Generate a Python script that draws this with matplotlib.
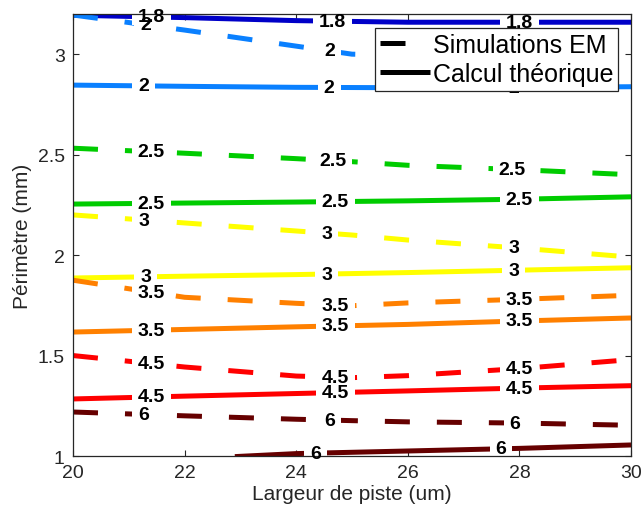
import numpy as np
import matplotlib.pyplot as plt
from matplotlib.lines import Line2D
from matplotlib.patches import Rectangle

plt.rcParams['font.family'] = ['Liberation Sans', 'DejaVu Sans']

# Simulations EM (traits pointillés)
x_sim = [20, 22, 24, 25, 26, 28, 30]
y_sim_2 = [3.195, 3.12, 3.04, 3.0, 2.995, 2.995, 3.0]
y_sim_25 = [2.532, 2.507, 2.48, 2.465, 2.447, 2.425, 2.40]
y_sim_3 = [2.20, 2.16, 2.12, 2.10, 2.075, 2.035, 1.99]
y_sim_35 = [1.875, 1.79, 1.76, 1.748, 1.762, 1.78, 1.80]
y_sim_45 = [1.50, 1.443, 1.398, 1.39, 1.40, 1.435, 1.48]
y_sim_6 = [1.219, 1.20, 1.183, 1.176, 1.17, 1.164, 1.153]

# Calcul théorique (traits pleins)
x_th = [20, 22, 24, 26, 28, 30]
y_th_18 = [3.194, 3.182, 3.167, 3.159, 3.159, 3.159]
y_th_2 = [2.846, 2.84, 2.835, 2.833, 2.835, 2.838]
y_th_25 = [2.254, 2.259, 2.264, 2.27, 2.278, 2.29]
y_th_3 = [1.886, 1.895, 1.903, 1.913, 1.925, 1.937]
y_th_35 = [1.617, 1.63, 1.643, 1.655, 1.672, 1.687]
y_th_45 = [1.284, 1.298, 1.311, 1.324, 1.338, 1.35]
x_th_6 = [22.9, 24, 26, 28, 30]
y_th_6 = [0.997, 1.012, 1.025, 1.038, 1.055]

colors = {'1.8': '#0000c8', '2': '#0a80ff', '2.5': '#00cc00', '3': '#ffff00',
          '3.5': '#ff8000', '4.5': '#ff0000', '6': '#660000'}

# (niveau, x, y, pointillé, positions des étiquettes)
series = [
    ('1.8', x_th, y_th_18, False, [21.4, 24.65, 28.0]),
    ('2', x_sim, y_sim_2, True, [21.3, 24.6]),   # la 3e étiquette est sous la légende
    ('2', x_th, y_th_2, False, [21.27, 24.59, 27.9]),
    ('2.5', x_sim, y_sim_25, True, [21.4, 24.65, 27.87]),
    ('2.5', x_th, y_th_25, False, [21.4, 24.7, 28.0]),
    ('3', x_sim, y_sim_3, True, [21.27, 24.55, 27.9]),
    ('3', x_th, y_th_3, False, [21.3, 24.55, 27.9]),
    ('3.5', x_sim, y_sim_35, True, [21.4, 24.7, 28.0]),
    ('3.5', x_th, y_th_35, False, [21.4, 24.7, 28.0]),
    ('4.5', x_sim, y_sim_45, True, [21.4, 24.7, 28.0]),
    ('4.5', x_th, y_th_45, False, [21.4, 24.7, 28.0]),
    ('6', x_sim, y_sim_6, True, [21.27, 24.6, 27.92]),
    ('6', x_th_6, y_th_6, False, [24.35, 27.67]),
]

lw = 3.6
dash = (5, 5.4)
axcol = '#262626'

fig = plt.figure(figsize=(6.41, 5.10), dpi=100)
ax = fig.add_axes([0.1139, 0.1039, 0.8705, 0.8667])

labels = []
for lev, xs, ys, dashed, lx in series:
    line, = ax.plot(xs, ys, color=colors[lev], lw=lw, solid_capstyle='butt', zorder=2)
    if dashed:
        line.set_dashes(dash)
        line.set_dash_capstyle('butt')
    for xl in lx:
        yl = np.interp(xl, xs, ys)
        t = ax.text(xl, yl, lev, ha='center', va='center', fontsize=14,
                    fontweight='bold', color='black', zorder=4)
        labels.append(t)

ax.set_xlim(20, 30)
ax.set_ylim(1, 3.2)
ax.set_xticks([20, 22, 24, 26, 28, 30])
ax.set_yticks([1, 1.5, 2, 2.5, 3])
ax.set_yticklabels(['1', '1.5', '2', '2.5', '3'])
ax.tick_params(direction='in', length=4, width=0.8, colors=axcol, labelsize=14,
               top=True, right=True, pad=6)
for s in ax.spines.values():
    s.set_color(axcol)
    s.set_linewidth(0.9)
    s.set_zorder(3.5)

ax.set_xlabel('Largeur de piste (um)', fontsize=15, color=axcol, labelpad=2)
ax.set_ylabel('Périmètre (mm)', fontsize=15, color=axcol, labelpad=4)

# trous blancs derrière les étiquettes de niveau
fig.canvas.draw()
inv = ax.transData.inverted()
for t in labels:
    bb = t.get_window_extent()
    cy = (bb.y0 + bb.y1) / 2
    (x0, y0), (x1, y1) = inv.transform([(bb.x0 - 6, cy - 8), (bb.x1 + 6, cy + 8)])
    ax.add_patch(Rectangle((x0, y0), x1 - x0, y1 - y0, fc='white', ec='none', zorder=3))

handles = [Line2D([], [], color='k', lw=lw, dashes=dash, dash_capstyle='butt'),
           Line2D([], [], color='k', lw=lw, solid_capstyle='butt')]
leg = ax.legend(handles, ['Simulations EM', 'Calcul théorique'], loc='upper right',
                bbox_to_anchor=(0.977, 0.968), borderaxespad=0, fontsize=18,
                handlelength=2.0, handletextpad=0.1, borderpad=0.2, labelspacing=0.2,
                fancybox=False, framealpha=1, edgecolor=axcol)
leg.get_frame().set_linewidth(0.9)
leg.set_zorder(10)

fig.savefig('out.png', dpi=100)
